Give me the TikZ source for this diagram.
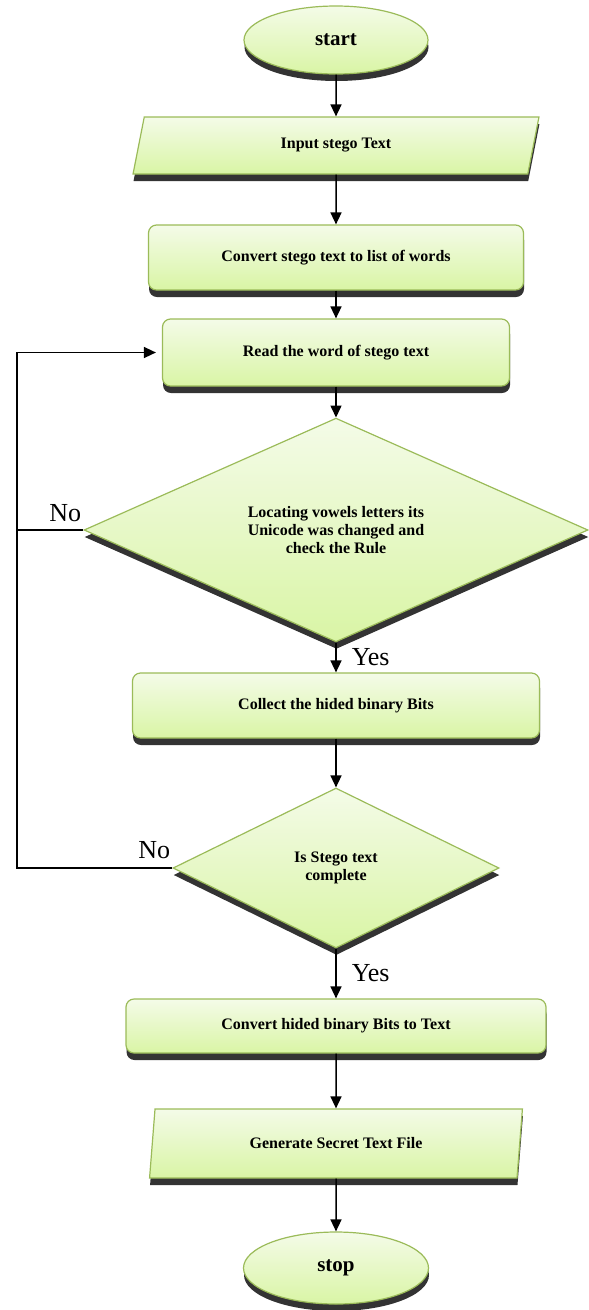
\documentclass[tikz,border=0pt]{standalone}
\usepackage{fontspec}
\setmainfont{Liberation Serif}
\usetikzlibrary{shapes.geometric,arrows.meta,shadows}

\definecolor{flowedge}{HTML}{9BBB59}
\definecolor{flowtop}{HTML}{F4FBE8}
\definecolor{flowbottom}{HTML}{D9F5A5}

\tikzset{
  flow/.style={draw=flowedge, line width=1.2pt, top color=flowtop, bottom color=flowbottom,
    drop shadow={shadow xshift=0.5pt, shadow yshift=-7pt, opacity=0.8, fill=black},
    font=\fontsize{16}{18}\selectfont\bfseries, align=center, inner sep=0pt},
  terminal/.style={flow, ellipse, minimum width=184pt, minimum height=68pt, font=\fontsize{21}{24}\selectfont\bfseries},
  process/.style={flow, rectangle, rounded corners=8pt},
  io/.style={flow, trapezium, trapezium left angle=77, trapezium right angle=103, trapezium stretches=true},
  decision/.style={flow, diamond},
  arr/.style={line width=1.5pt, -{Triangle[length=12pt,width=11pt]}},
  lbl/.style={font=\fontsize{26}{28}\selectfont, inner sep=2pt},
}

\begin{document}
\begin{tikzpicture}[x=1pt,y=-1pt]
\useasboundingbox (0,0) rectangle (589,1310);

% boxes
\node[terminal] (start) at (336,40) {start};
\node[io, minimum width=406pt, minimum height=57pt] (input) at (336,145.5) {Input stego Text};
\node[process, minimum width=375pt, minimum height=65pt] (convert) at (336,257.5) {Convert stego text to list of words};
\node[process, minimum width=347pt, minimum height=67pt] (read) at (336,352.5) {Read the word of stego text};
\node[decision, minimum width=504pt, minimum height=210pt] (locate) at (336,530)
  {Locating vowels letters its\\Unicode was changed and\\check the Rule};
\node[process, minimum width=407pt, minimum height=65pt] (collect) at (336,705.5) {Collect the hided binary Bits};
\node[decision, minimum width=326pt, minimum height=160pt] (complete) at (336,868) {Is Stego text\\complete};
\node[process, minimum width=420pt, minimum height=54pt] (tobits) at (336,1026) {Convert hided binary Bits to Text};
\node[io, minimum width=373pt, minimum height=69pt] (output) at (336,1143.5) {Generate Secret Text File};
\node[terminal, minimum width=185pt, minimum height=72pt] (stop) at (336,1268) {stop};

% arrows
\draw[arr] (start) -- (input);
\draw[arr] (input) -- (convert);
\draw[arr] (convert) -- (read);
\draw[arr] (read) -- (locate);
\draw[arr] (locate) -- node[lbl, right=13pt] (yes1) {Yes} (collect);
\draw[arr] (collect) -- (complete);
\draw[arr] (complete) -- node[lbl, right=13pt] (yes2) {Yes} (tobits);
\draw[arr] (tobits) -- (output);
\draw[arr] (output) -- (stop);

% loop back
\coordinate (loop) at (17,0);
\draw[line width=1.5pt] (locate.west) -- (locate.west -| loop);
\draw[arr, shorten >=6pt] (complete.west) -- (complete.west -| loop) |- (read.west);
\node[lbl, anchor=base east] (no1) at ([yshift=9pt]locate.west) {No};
\node[lbl, anchor=base east] (no2) at ([yshift=10pt]complete.west) {No};
\end{tikzpicture}
\end{document}
